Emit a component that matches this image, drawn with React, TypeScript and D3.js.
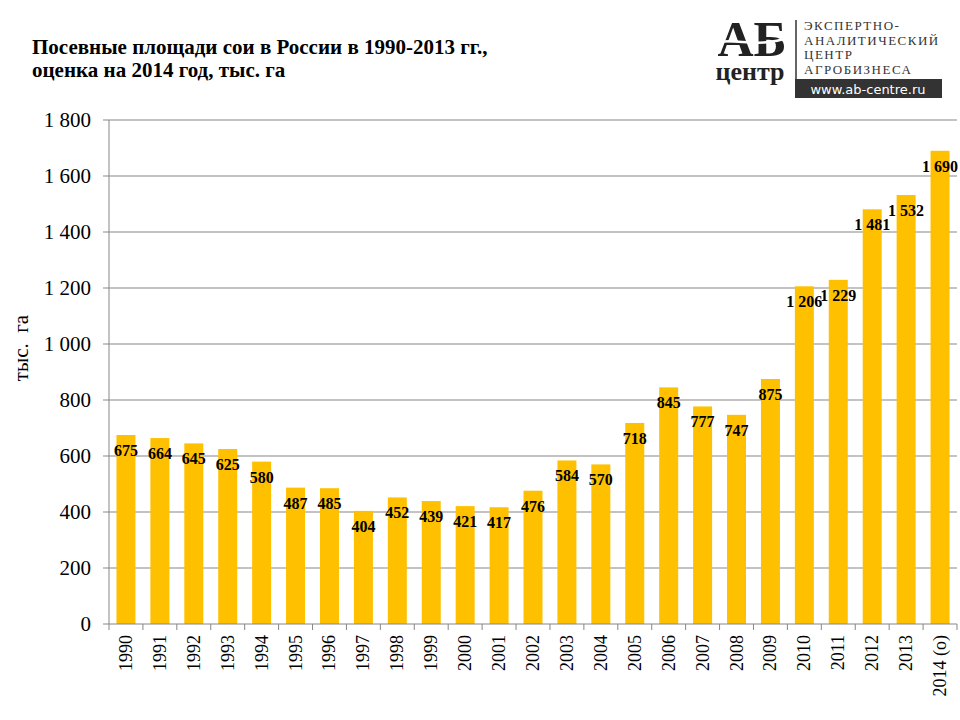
import React, { useEffect, useRef } from 'react';
import * as d3 from 'd3';

const years = ['1990', '1991', '1992', '1993', '1994', '1995', '1996', '1997', '1998', '1999', '2000', '2001', '2002', '2003', '2004', '2005', '2006', '2007', '2008', '2009', '2010', '2011', '2012', '2013', '2014 (о)'];
const area = [675, 664, 645, 625, 580, 487, 485, 404, 452, 439, 421, 417, 476, 584, 570, 718, 845, 777, 747, 875, 1206, 1229, 1481, 1532, 1690];
const yTicks = [0, 200, 400, 600, 800, 1000, 1200, 1400, 1600, 1800];
const titleLines = ['Посевные площади сои в России в 1990-2013 гг.,', 'оценка на 2014 год, тыс. га'];
const logoLines = ['ЭКСПЕРТНО-', 'АНАЛИТИЧЕСКИЙ', 'ЦЕНТР', 'АГРОБИЗНЕСА'];

const W = 960;
const H = 720;
const serif = '"Times New Roman", "Liberation Serif", serif';

// thousands with a space, like "1 800"
const fmt = (v: number) => d3.format(',')(v).replace(/,/g, ' ');

const App = () => {
  const ref = useRef<SVGSVGElement>(null);

  useEffect(() => {
    const svg = d3.select(ref.current);
    svg.selectAll('*').remove();

    const left = 109, right = 957, top = 120, bottom = 624;

    const x = d3.scaleBand().domain(years).range([left, right]).paddingInner(0.44).paddingOuter(0.22);
    const y = d3.scaleLinear().domain([0, 1800]).range([bottom, top]);
    const step = x.step();

    // title
    svg.append('g')
      .selectAll('text')
      .data(titleLines)
      .join('text')
      .attr('x', 32)
      .attr('y', (d, i) => 54 + i * 23)
      .attr('font-family', serif)
      .attr('font-weight', 'bold')
      .attr('font-size', 21)
      .text(d => d);

    // gridlines
    svg.append('g')
      .selectAll('line')
      .data(yTicks.filter(t => t > 0))
      .join('line')
      .attr('x1', left)
      .attr('x2', right)
      .attr('y1', d => y(d))
      .attr('y2', d => y(d))
      .attr('stroke', '#878787')
      .attr('stroke-width', 1);

    // bars
    svg.append('g')
      .selectAll('rect')
      .data(area)
      .join('rect')
      .attr('x', (d, i) => x(years[i])!)
      .attr('y', d => y(d))
      .attr('width', x.bandwidth())
      .attr('height', d => bottom - y(d))
      .attr('fill', '#FFC000');

    // value labels
    svg.append('g')
      .selectAll('text')
      .data(area)
      .join('text')
      .attr('x', (d, i) => x(years[i])! + x.bandwidth() / 2)
      .attr('y', d => y(d) + 21)
      .attr('text-anchor', 'middle')
      .attr('font-family', serif)
      .attr('font-weight', 'bold')
      .attr('font-size', 16)
      .text(d => fmt(d));

    // y axis
    const yAxis = svg.append('g');
    yAxis.append('line')
      .attr('x1', left).attr('x2', left)
      .attr('y1', top).attr('y2', bottom)
      .attr('stroke', '#878787');
    yAxis.selectAll('line.tick')
      .data(yTicks)
      .join('line')
      .attr('class', 'tick')
      .attr('x1', left - 6).attr('x2', left)
      .attr('y1', d => y(d)).attr('y2', d => y(d))
      .attr('stroke', '#878787');
    yAxis.selectAll('text')
      .data(yTicks)
      .join('text')
      .attr('x', 91)
      .attr('y', d => y(d))
      .attr('dy', '0.35em')
      .attr('text-anchor', 'end')
      .attr('font-family', serif)
      .attr('font-size', 21)
      .text(d => fmt(d));

    // x axis
    const xAxis = svg.append('g');
    xAxis.append('line')
      .attr('x1', left).attr('x2', right)
      .attr('y1', bottom).attr('y2', bottom)
      .attr('stroke', '#878787');
    xAxis.selectAll('line.tick')
      .data(d3.range(years.length + 1))
      .join('line')
      .attr('class', 'tick')
      .attr('x1', i => left + i * step).attr('x2', i => left + i * step)
      .attr('y1', bottom).attr('y2', bottom + 6)
      .attr('stroke', '#878787');
    xAxis.selectAll('text')
      .data(years)
      .join('text')
      .attr('transform', d => `translate(${x(d)! + x.bandwidth() / 2 + 6},${bottom + 11}) rotate(-90)`)
      .attr('text-anchor', 'end')
      .attr('font-family', serif)
      .attr('font-size', 18)
      .text(d => d);

    // y axis title
    svg.append('text')
      .attr('transform', `translate(28,${(top + bottom) / 2 - 24}) rotate(-90)`)
      .attr('text-anchor', 'middle')
      .attr('font-family', serif)
      .attr('font-size', 21)
      .attr('xml:space', 'preserve')
      .text('тыс.  га');

    // logo
    const logo = svg.append('g');
    logo.append('text')
      .attr('x', 752).attr('y', 56)
      .attr('text-anchor', 'middle')
      .attr('font-family', serif)
      .attr('font-weight', 'bold')
      .attr('font-size', 50)
      .attr('fill', '#222')
      .text('АБ');
    logo.append('path')
      .attr('d', 'M708,47 C730,33 752,51 790,37')
      .attr('fill', 'none')
      .attr('stroke', '#fff')
      .attr('stroke-width', 2.5);
    logo.append('text')
      .attr('x', 750).attr('y', 80)
      .attr('text-anchor', 'middle')
      .attr('font-family', serif)
      .attr('font-weight', 'bold')
      .attr('font-size', 26)
      .attr('fill', '#222')
      .text('центр');
    logo.append('line')
      .attr('x1', 796).attr('x2', 796)
      .attr('y1', 20).attr('y2', 88)
      .attr('stroke', '#333').attr('stroke-width', 1.5);
    logo.selectAll('text.ll')
      .data(logoLines)
      .join('text')
      .attr('class', 'll')
      .attr('x', 804)
      .attr('y', (d, i) => 30 + i * 14.6)
      .attr('font-family', serif)
      .attr('font-size', 13)
      .attr('letter-spacing', 1.5)
      .attr('fill', '#333')
      .text(d => d);
    logo.append('rect')
      .attr('x', 795).attr('y', 79)
      .attr('width', 147).attr('height', 19)
      .attr('fill', '#333');
    logo.append('text')
      .attr('x', 868).attr('y', 94)
      .attr('text-anchor', 'middle')
      .attr('font-family', '"DejaVu Sans", sans-serif')
      .attr('font-size', 13)
      .attr('fill', '#fff')
      .text('www.ab-centre.ru');
  }, []);

  return (
    <svg
      ref={ref}
      width={W}
      height={H}
      style={{ display: 'block', position: 'absolute', left: 0, top: 0, background: '#fff' }}
    />
  );
};

export default App;
